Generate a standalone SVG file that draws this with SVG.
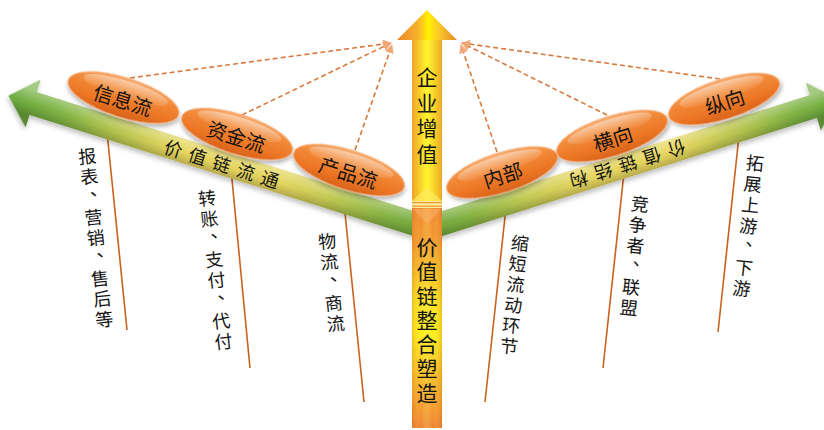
<svg xmlns="http://www.w3.org/2000/svg" width="824" height="430" viewBox="0 0 824 430">
<style>
 text{font-family:"Noto Sans CJK SC","Noto Sans",sans-serif;fill:#141414;dominant-baseline:central;text-anchor:middle}
 .lbl{font-size:18px}
 .el{font-size:20px}
 .armt{font-size:18px}
 .vt{font-size:21px;writing-mode:vertical-rl;text-anchor:start;letter-spacing:4.7px}
 .vt2{font-size:21px;writing-mode:vertical-rl;text-anchor:start;letter-spacing:3.3px}
 .dash{fill:none;stroke:#d87a3c;stroke-width:1.6;stroke-dasharray:5 3;marker-end:url(#ah)}
 .vl{stroke:#c8621e;stroke-width:1.6;fill:none}
 .ell{fill:url(#gEll);stroke:#f5b886;stroke-width:.8;filter:url(#sh)}
 .hi{fill:url(#gHi)}
</style>
<defs>
 <marker id="ah" viewBox="0 0 10 10" refX="9" refY="5" markerWidth="9" markerHeight="9" markerUnits="userSpaceOnUse" orient="auto">
  <path d="M0,0 L10,5 L0,10 Z" fill="#f0a878"/>
 </marker>
 <linearGradient id="gArm" gradientUnits="userSpaceOnUse" x1="0" y1="0" x2="435" y2="0">
  <stop offset="0" stop-color="#6aa63a"/>
  <stop offset="0.1" stop-color="#86b443"/>
  <stop offset="0.25" stop-color="#c8cc55"/>
  <stop offset="0.36" stop-color="#e6d660"/>
  <stop offset="0.6" stop-color="#e6d65e"/>
  <stop offset="0.75" stop-color="#b8c650"/>
  <stop offset="0.88" stop-color="#80b444"/>
  <stop offset="1" stop-color="#6cab3e"/>
 </linearGradient>
 <linearGradient id="gShade" gradientUnits="userSpaceOnUse" x1="0" y1="-13" x2="0" y2="13">
  <stop offset="0" stop-color="#ffffff" stop-opacity="0.35"/>
  <stop offset="0.45" stop-color="#ffffff" stop-opacity="0.05"/>
  <stop offset="0.55" stop-color="#000000" stop-opacity="0"/>
  <stop offset="1" stop-color="#000000" stop-opacity="0.22"/>
 </linearGradient>
 <linearGradient id="gEll" x1="0" y1="0" x2="0" y2="1">
  <stop offset="0" stop-color="#f7ac70"/>
  <stop offset="0.3" stop-color="#f28b3a"/>
  <stop offset="0.7" stop-color="#ec7624"/>
  <stop offset="1" stop-color="#d8621a"/>
 </linearGradient>
 <linearGradient id="gHi" x1="0" y1="0" x2="0" y2="1">
  <stop offset="0" stop-color="#ffffff" stop-opacity="0.45"/>
  <stop offset="1" stop-color="#ffffff" stop-opacity="0"/>
 </linearGradient>
 <linearGradient id="gUp" x1="0" y1="0" x2="1" y2="0">
  <stop offset="0" stop-color="#eea22c"/>
  <stop offset="0.22" stop-color="#f8c828"/>
  <stop offset="0.5" stop-color="#fff530"/>
  <stop offset="0.78" stop-color="#f8cc28"/>
  <stop offset="1" stop-color="#eaa82a"/>
 </linearGradient>
 <linearGradient id="gHead" x1="0" y1="0" x2="1" y2="0">
  <stop offset="0" stop-color="#ec8428"/>
  <stop offset="0.35" stop-color="#f6b22c"/>
  <stop offset="0.52" stop-color="#fff000"/>
  <stop offset="0.7" stop-color="#f8c82a"/>
  <stop offset="1" stop-color="#e98a28"/>
 </linearGradient>
 <linearGradient id="gLow" x1="0" y1="0" x2="0" y2="1">
  <stop offset="0" stop-color="#f08a30"/>
  <stop offset="0.15" stop-color="#f29a2c"/>
  <stop offset="0.42" stop-color="#fbe020"/>
  <stop offset="0.58" stop-color="#fdec1c"/>
  <stop offset="0.85" stop-color="#f5a82a"/>
  <stop offset="1" stop-color="#ef8430"/>
 </linearGradient>
 <linearGradient id="gSide" x1="0" y1="0" x2="1" y2="0">
  <stop offset="0" stop-color="#c05000" stop-opacity="0.22"/>
  <stop offset="0.3" stop-color="#ffffff" stop-opacity="0"/>
  <stop offset="0.5" stop-color="#ffff80" stop-opacity="0.2"/>
  <stop offset="0.7" stop-color="#ffffff" stop-opacity="0"/>
  <stop offset="1" stop-color="#c05000" stop-opacity="0.25"/>
 </linearGradient>
 <filter id="sh" x="-20%" y="-40%" width="140%" height="190%">
  <feDropShadow dx="1" dy="3" stdDeviation="2" flood-color="#000" flood-opacity="0.3"/>
 </filter>
 <filter id="sh2" x="-10%" y="-50%" width="120%" height="200%">
  <feDropShadow dx="0" dy="3" stdDeviation="2.5" flood-color="#000" flood-opacity="0.25"/>
 </filter>
</defs>

<g id="connectors">
 <path class="dash" d="M130,78 L391,43"/>
 <path class="dash" d="M242,115 L391,43"/>
 <path class="dash" d="M355,150 L392,45"/>
 <path class="dash" d="M720,79 L462,43"/>
 <path class="dash" d="M607,115 L462,43"/>
 <path class="dash" d="M497,152 L461,45"/>
 <path class="vl" d="M106.8,130 L127,330"/>
 <path class="vl" d="M230.9,168 L250,368"/>
 <path class="vl" d="M344,203 L364,402"/>
 <path class="vl" d="M506.4,204 L485,402"/>
 <path class="vl" d="M624.6,167 L603,368"/>
 <path class="vl" d="M739.5,131 L718,332"/>
</g>

<g id="arm-left" transform="translate(428,228) scale(-1,1) rotate(-17.5)" filter="url(#sh2)">
 <path d="M0,-12 L414,-12 L414,-25 L440,0 L414,25 L414,12 L0,12 Z" fill="url(#gArm)"/>
 <path d="M0,-12 L414,-12 L414,-25 L440,0 L414,25 L414,12 L0,12 Z" fill="url(#gShade)"/>
</g>
<g id="arm-right" transform="translate(428,228) rotate(-17.5)" filter="url(#sh2)">
 <path d="M0,-12 L404,-12 L404,-25 L430,0 L404,25 L404,12 L0,12 Z" fill="url(#gArm)"/>
 <path d="M0,-12 L404,-12 L404,-25 L430,0 L404,25 L404,12 L0,12 Z" fill="url(#gShade)"/>
</g>

<g id="arm-text-left" transform="translate(222,163) rotate(17.5)">
 <text class="armt"><tspan x="-50.6" y="0">价</tspan><tspan x="-25.3" y="0">值</tspan><tspan x="0" y="0">链</tspan><tspan x="25.3" y="0">流</tspan><tspan x="50.6" y="0">通</tspan></text>
</g>
<g id="arm-text-right" transform="translate(628,165) rotate(162.5)">
 <text class="armt"><tspan x="-51" y="0">价</tspan><tspan x="-25.5" y="0">值</tspan><tspan x="0" y="0">链</tspan><tspan x="25.5" y="0">结</tspan><tspan x="51" y="0">构</tspan></text>
</g>

<g id="arrow-up">
 <rect x="412" y="40" width="30" height="161" fill="url(#gUp)"/>
 <polygon points="427,10 457,40 397,40" fill="url(#gHead)"/>
 <polygon points="412,201 427,187 442,201" fill="#ffec60" opacity="0.7"/>
 <text class="vt" x="427" y="66.5">企业增值</text>
</g>
<g id="arrow-joint">
 <rect x="412" y="201" width="30" height="7" fill="#fde9a0"/>
 <line x1="412" y1="202.6" x2="442" y2="202.6" stroke="#e8962a" stroke-width="1.2"/>
 <line x1="412" y1="206.2" x2="442" y2="206.2" stroke="#e8962a" stroke-width="1.2"/>
</g>
<g id="arrow-base">
 <rect x="412" y="208" width="30" height="220" fill="url(#gLow)"/>
 <rect x="412" y="208" width="30" height="220" fill="url(#gSide)"/>
 <polygon points="413,209 441,209 427,224" fill="#f9b56a" opacity="0.55"/>
 <text class="vt2" x="427" y="236.5">价值链整合塑造</text>
</g>

<g id="node-xinxiliu" transform="translate(123.5,97.5) rotate(17.5)">
 <ellipse class="ell" rx="58" ry="20"/><ellipse class="hi" cy="-8" rx="44" ry="9"/>
 <text class="el" y="2">信息流</text>
</g>
<g id="node-zijinliu" transform="translate(237,134) rotate(17.5)">
 <ellipse class="ell" rx="58" ry="20"/><ellipse class="hi" cy="-8" rx="44" ry="9"/>
 <text class="el" y="2">资金流</text>
</g>
<g id="node-chanpinliu" transform="translate(349,170) rotate(17.5)">
 <ellipse class="ell" rx="58" ry="20"/><ellipse class="hi" cy="-8" rx="44" ry="9"/>
 <text class="el" y="2">产品流</text>
</g>
<g id="node-neibu" transform="translate(502,172.5) rotate(-17.5)">
 <ellipse class="ell" rx="58" ry="20"/><ellipse class="hi" cy="-8" rx="44" ry="9"/>
 <text class="el" y="2">内部</text>
</g>
<g id="node-hengxiang" transform="translate(612,136) rotate(-17.5)">
 <ellipse class="ell" rx="58" ry="20"/><ellipse class="hi" cy="-8" rx="44" ry="9"/>
 <text class="el" y="2">横向</text>
</g>
<g id="node-zongxiang" transform="translate(724,99) rotate(-17.5)">
 <ellipse class="ell" rx="58" ry="20"/><ellipse class="hi" cy="-8" rx="44" ry="9"/>
 <text class="el" y="2">纵向</text>
</g>

<g id="label-baobiao" transform="translate(87,155) rotate(-6)">
 <text class="lbl"><tspan x="0" y="0">报</tspan><tspan x="0" y="20.5">表</tspan><tspan x="8" y="33">、</tspan><tspan x="0" y="61.5">营</tspan><tspan x="0" y="82">销</tspan><tspan x="8" y="94.5">、</tspan><tspan x="0" y="123">售</tspan><tspan x="0" y="143.5">后</tspan><tspan x="0" y="164">等</tspan></text>
</g>
<g id="label-zhuanzhang" transform="translate(207,197) rotate(-6.5)">
 <text class="lbl"><tspan x="0" y="0">转</tspan><tspan x="0" y="20.6">账</tspan><tspan x="8" y="33.2">、</tspan><tspan x="0" y="61.8">支</tspan><tspan x="0" y="82.4">付</tspan><tspan x="8" y="95">、</tspan><tspan x="0" y="123.6">代</tspan><tspan x="0" y="144.2">付</tspan></text>
</g>
<g id="label-wuliu" transform="translate(327,240) rotate(-6)">
 <text class="lbl"><tspan x="0" y="0">物</tspan><tspan x="0" y="20.7">流</tspan><tspan x="8" y="33.4">、</tspan><tspan x="0" y="62.1">商</tspan><tspan x="0" y="82.8">流</tspan></text>
</g>
<g id="label-suoduan" transform="translate(520,242) rotate(6)">
 <text class="lbl"><tspan x="0" y="0">缩</tspan><tspan x="0" y="20.7">短</tspan><tspan x="0" y="41.4">流</tspan><tspan x="0" y="62.1">动</tspan><tspan x="0" y="82.8">环</tspan><tspan x="0" y="103.5">节</tspan></text>
</g>
<g id="label-jingzheng" transform="translate(640,203) rotate(6)">
 <text class="lbl"><tspan x="0" y="0">竞</tspan><tspan x="0" y="20.8">争</tspan><tspan x="0" y="41.6">者</tspan><tspan x="8" y="54.4">、</tspan><tspan x="0" y="83.2">联</tspan><tspan x="0" y="104">盟</tspan></text>
</g>
<g id="label-tuozhan" transform="translate(755,162) rotate(6)">
 <text class="lbl"><tspan x="0" y="0">拓</tspan><tspan x="0" y="21">展</tspan><tspan x="0" y="42">上</tspan><tspan x="0" y="63">游</tspan><tspan x="8" y="76">、</tspan><tspan x="0" y="105">下</tspan><tspan x="0" y="126">游</tspan></text>
</g>
</svg>
